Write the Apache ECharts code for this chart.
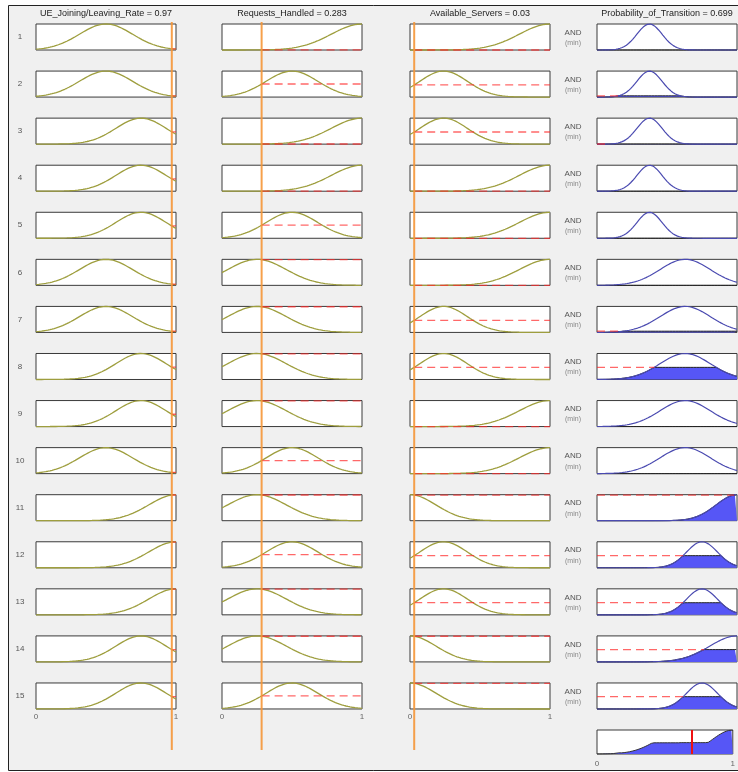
<!DOCTYPE html>
<html>
<head>
<meta charset="utf-8">
<script src="https://cdn.jsdelivr.net/npm/echarts@6/dist/echarts.min.js"></script>
<style>
html, body { margin: 0; padding: 0; background: #fff; }
#chart { width: 738px; height: 772px; }
</style>
</head>
<body>
<div id="chart"></div>
<script>
const inputNames = ["UE_Joining/Leaving_Rate", "Requests_Handled", "Available_Servers"];
const inputValues = [0.97, 0.283, 0.03];
const outputName = "Probability_of_Transition";
const outputValue = 0.699;

// gaussian membership functions (center, sigma)
const joinCenters = [0.5, 0.75, 1];
const joinSigmas = [0.19, 0.18, 0.195];
const reqCenters = [0.25, 0.5, 1];
const reqSigmas = [0.21, 0.185, 0.22];
const srvCenters = [0, 0.24, 1];
const srvSigmas = [0.186, 0.17, 0.22];
const outCenters = [0.375, 0.63, 1, 0.75, 1];
const outSigmas = [0.09, 0.18, 0.15, 0.11, 0.195];

// rule base: which MF each rule uses
const ruleJoin = [0, 0, 1, 1, 1, 0, 0, 1, 1, 0, 2, 2, 2, 1, 1];
const ruleReq = [2, 1, 2, 2, 1, 0, 0, 0, 0, 1, 0, 1, 0, 0, 1];
const ruleSrv = [2, 1, 1, 2, 2, 2, 1, 1, 2, 2, 0, 1, 1, 0, 0];
const ruleOut = [0, 0, 0, 0, 0, 1, 1, 1, 1, 1, 2, 3, 3, 4, 3];

const tickLabels = ["0", "1"];

// layout
const colLeft = [36, 222, 410, 597];
const boxW = 140;
const rowTop0 = 24, rowStep = 47.07, boxH = 26;
const aggTop = 730, aggH = 24;
const font = "Liberation Sans, Arial, sans-serif";

const gauss = (x, c, s) => Math.exp(-((x - c) * (x - c)) / (2 * s * s));
const inMfs = [
    [joinCenters, joinSigmas],
    [reqCenters, reqSigmas],
    [srvCenters, srvSigmas],
];
const ruleIn = [ruleJoin, ruleReq, ruleSrv];
const xs = [];
for (let k = 0; k <= 200; k++) xs.push(k / 200);

const grids = [], xAxes = [], yAxes = [], series = [], graphics = [];
const nRules = ruleOut.length;
const strengths = [];

function addGrid(left, top, h, showLabels, margin, boxed) {
    const g = grids.length;
    grids.push({
        left: left, top: top, width: boxW, height: h,
        show: boxed, backgroundColor: "#fff", borderColor: "#3a3a3a", borderWidth: 1,
    });
    xAxes.push({
        gridIndex: g, type: "value", min: 0, max: 1, interval: 1,
        axisLine: { show: false }, axisTick: { show: false }, splitLine: { show: false },
        axisLabel: {
            show: showLabels, fontSize: 8, color: "#666", margin: margin, fontFamily: font,
            formatter: (v) => tickLabels[Math.round(v)],
        },
    });
    yAxes.push({ gridIndex: g, type: "value", min: 0, max: 1, show: false });
    return g;
}

const dash = { color: "rgba(255,40,40,0.7)", width: 1.3, type: [8, 5] };

for (let r = 0; r < nRules; r++) {
    const top = rowTop0 + r * rowStep;
    let w = 1;
    for (let i = 0; i < 3; i++) {
        const c = inMfs[i][0][ruleIn[i][r]], s = inMfs[i][1][ruleIn[i][r]];
        const g = addGrid(colLeft[i], top, boxH, r === nRules - 1, 4, true);
        const mu = gauss(inputValues[i], c, s);
        w = Math.min(w, mu);
        series.push({
            type: "line", xAxisIndex: g, yAxisIndex: g, showSymbol: false, clip: false, z: 3,
            silent: true, lineStyle: { color: "#9e9e3e", width: 1.3 },
            data: xs.map((x) => [x, gauss(x, c, s)]),
        });
        series.push({
            type: "line", xAxisIndex: g, yAxisIndex: g, showSymbol: false, clip: false, z: 4,
            silent: true, lineStyle: dash,
            data: [[inputValues[i], mu], [1, mu]],
        });
    }
    strengths.push(w);

    // output consequent
    const oc = outCenters[ruleOut[r]], os = outSigmas[ruleOut[r]];
    const g = addGrid(colLeft[3], top, boxH, false, 4, true);
    series.push({
        type: "line", xAxisIndex: g, yAxisIndex: g, showSymbol: false, clip: false, z: 2,
        silent: true, lineStyle: { color: "#222", width: 1 },
        areaStyle: { color: "#5656f6", opacity: 1 },
        data: xs.map((x) => [x, Math.min(gauss(x, oc, os), w)]),
    });
    series.push({
        type: "line", xAxisIndex: g, yAxisIndex: g, showSymbol: false, clip: false, z: 3,
        silent: true, lineStyle: { color: "#4a4ab0", width: 1.2 },
        data: xs.map((x) => [x, gauss(x, oc, os)]),
    });
    const cross = xs.find((x) => gauss(x, oc, os) >= w);
    if (cross > 0.01) {
        series.push({
            type: "line", xAxisIndex: g, yAxisIndex: g, showSymbol: false, clip: false, z: 4,
            silent: true, lineStyle: dash,
            data: [[0, w], [cross, w]],
        });
    }

    graphics.push({
        type: "text", x: 20, y: top + boxH / 2, z: 5,
        style: { text: String(r + 1), fontSize: 8, fill: "#555", font: "8px " + font, align: "center", verticalAlign: "middle" },
    });
    graphics.push({
        type: "text", x: 573, y: top + boxH / 2 - 4.5, z: 5,
        style: { text: "AND", fill: "#555", font: "8px " + font, align: "center", verticalAlign: "middle" },
    });
    graphics.push({
        type: "text", x: 573, y: top + boxH / 2 + 6, z: 5,
        style: { text: "(min)", fill: "#888", font: "7px " + font, align: "center", verticalAlign: "middle" },
    });
}

// aggregated output
const ga = addGrid(colLeft[3], aggTop, aggH, true, 6, true);
series.push({
    type: "line", xAxisIndex: ga, yAxisIndex: ga, showSymbol: false, clip: false, z: 2,
    silent: true, lineStyle: { color: "#333", width: 1 },
    areaStyle: { color: "#5656f6", opacity: 1 },
    data: xs.map((x) => [x, Math.max(...ruleOut.map((o, r) => Math.min(gauss(x, outCenters[o], outSigmas[o]), strengths[r])))]),
    markLine: {
        silent: true, symbol: "none", label: { show: false },
        lineStyle: { color: "#ee1111", width: 2, type: "solid" },
        data: [{ xAxis: outputValue }],
    },
});

// input value markers running through all rows
for (let i = 0; i < 3; i++) {
    const g = addGrid(colLeft[i], rowTop0 - 2, aggTop + aggH - 4 - (rowTop0 - 2), false, 4, false);
    series.push({
        type: "line", xAxisIndex: g, yAxisIndex: g, showSymbol: false, clip: false, z: 10,
        silent: true, lineStyle: { color: "rgba(245,150,55,0.9)", width: 2 },
        data: [[inputValues[i], 0], [inputValues[i], 1]],
    });
}

// titles
const titles = inputNames.map((n, i) => n + " = " + inputValues[i]).concat([outputName + " = " + outputValue]);
titles.forEach((t, i) => {
    graphics.push({
        type: "text", x: colLeft[i] + boxW / 2, y: 14, z: 5,
        style: { text: t, fill: "#222", font: "9px " + font, align: "center", verticalAlign: "middle" },
    });
});

// panel frame
graphics.push({
    type: "rect", z: -100, silent: true,
    shape: { x: 8.5, y: 5.5, width: 745, height: 765 },
    style: { fill: "#f0f0f0", stroke: "#222", lineWidth: 1 },
});

document.addEventListener("DOMContentLoaded", () => {
    echarts.init(document.querySelector("#chart")).setOption({
        backgroundColor: "#fff",
        animation: false,
        grid: grids,
        xAxis: xAxes,
        yAxis: yAxes,
        series: series,
        graphic: graphics,
    });
});
</script>
</body>
</html>
